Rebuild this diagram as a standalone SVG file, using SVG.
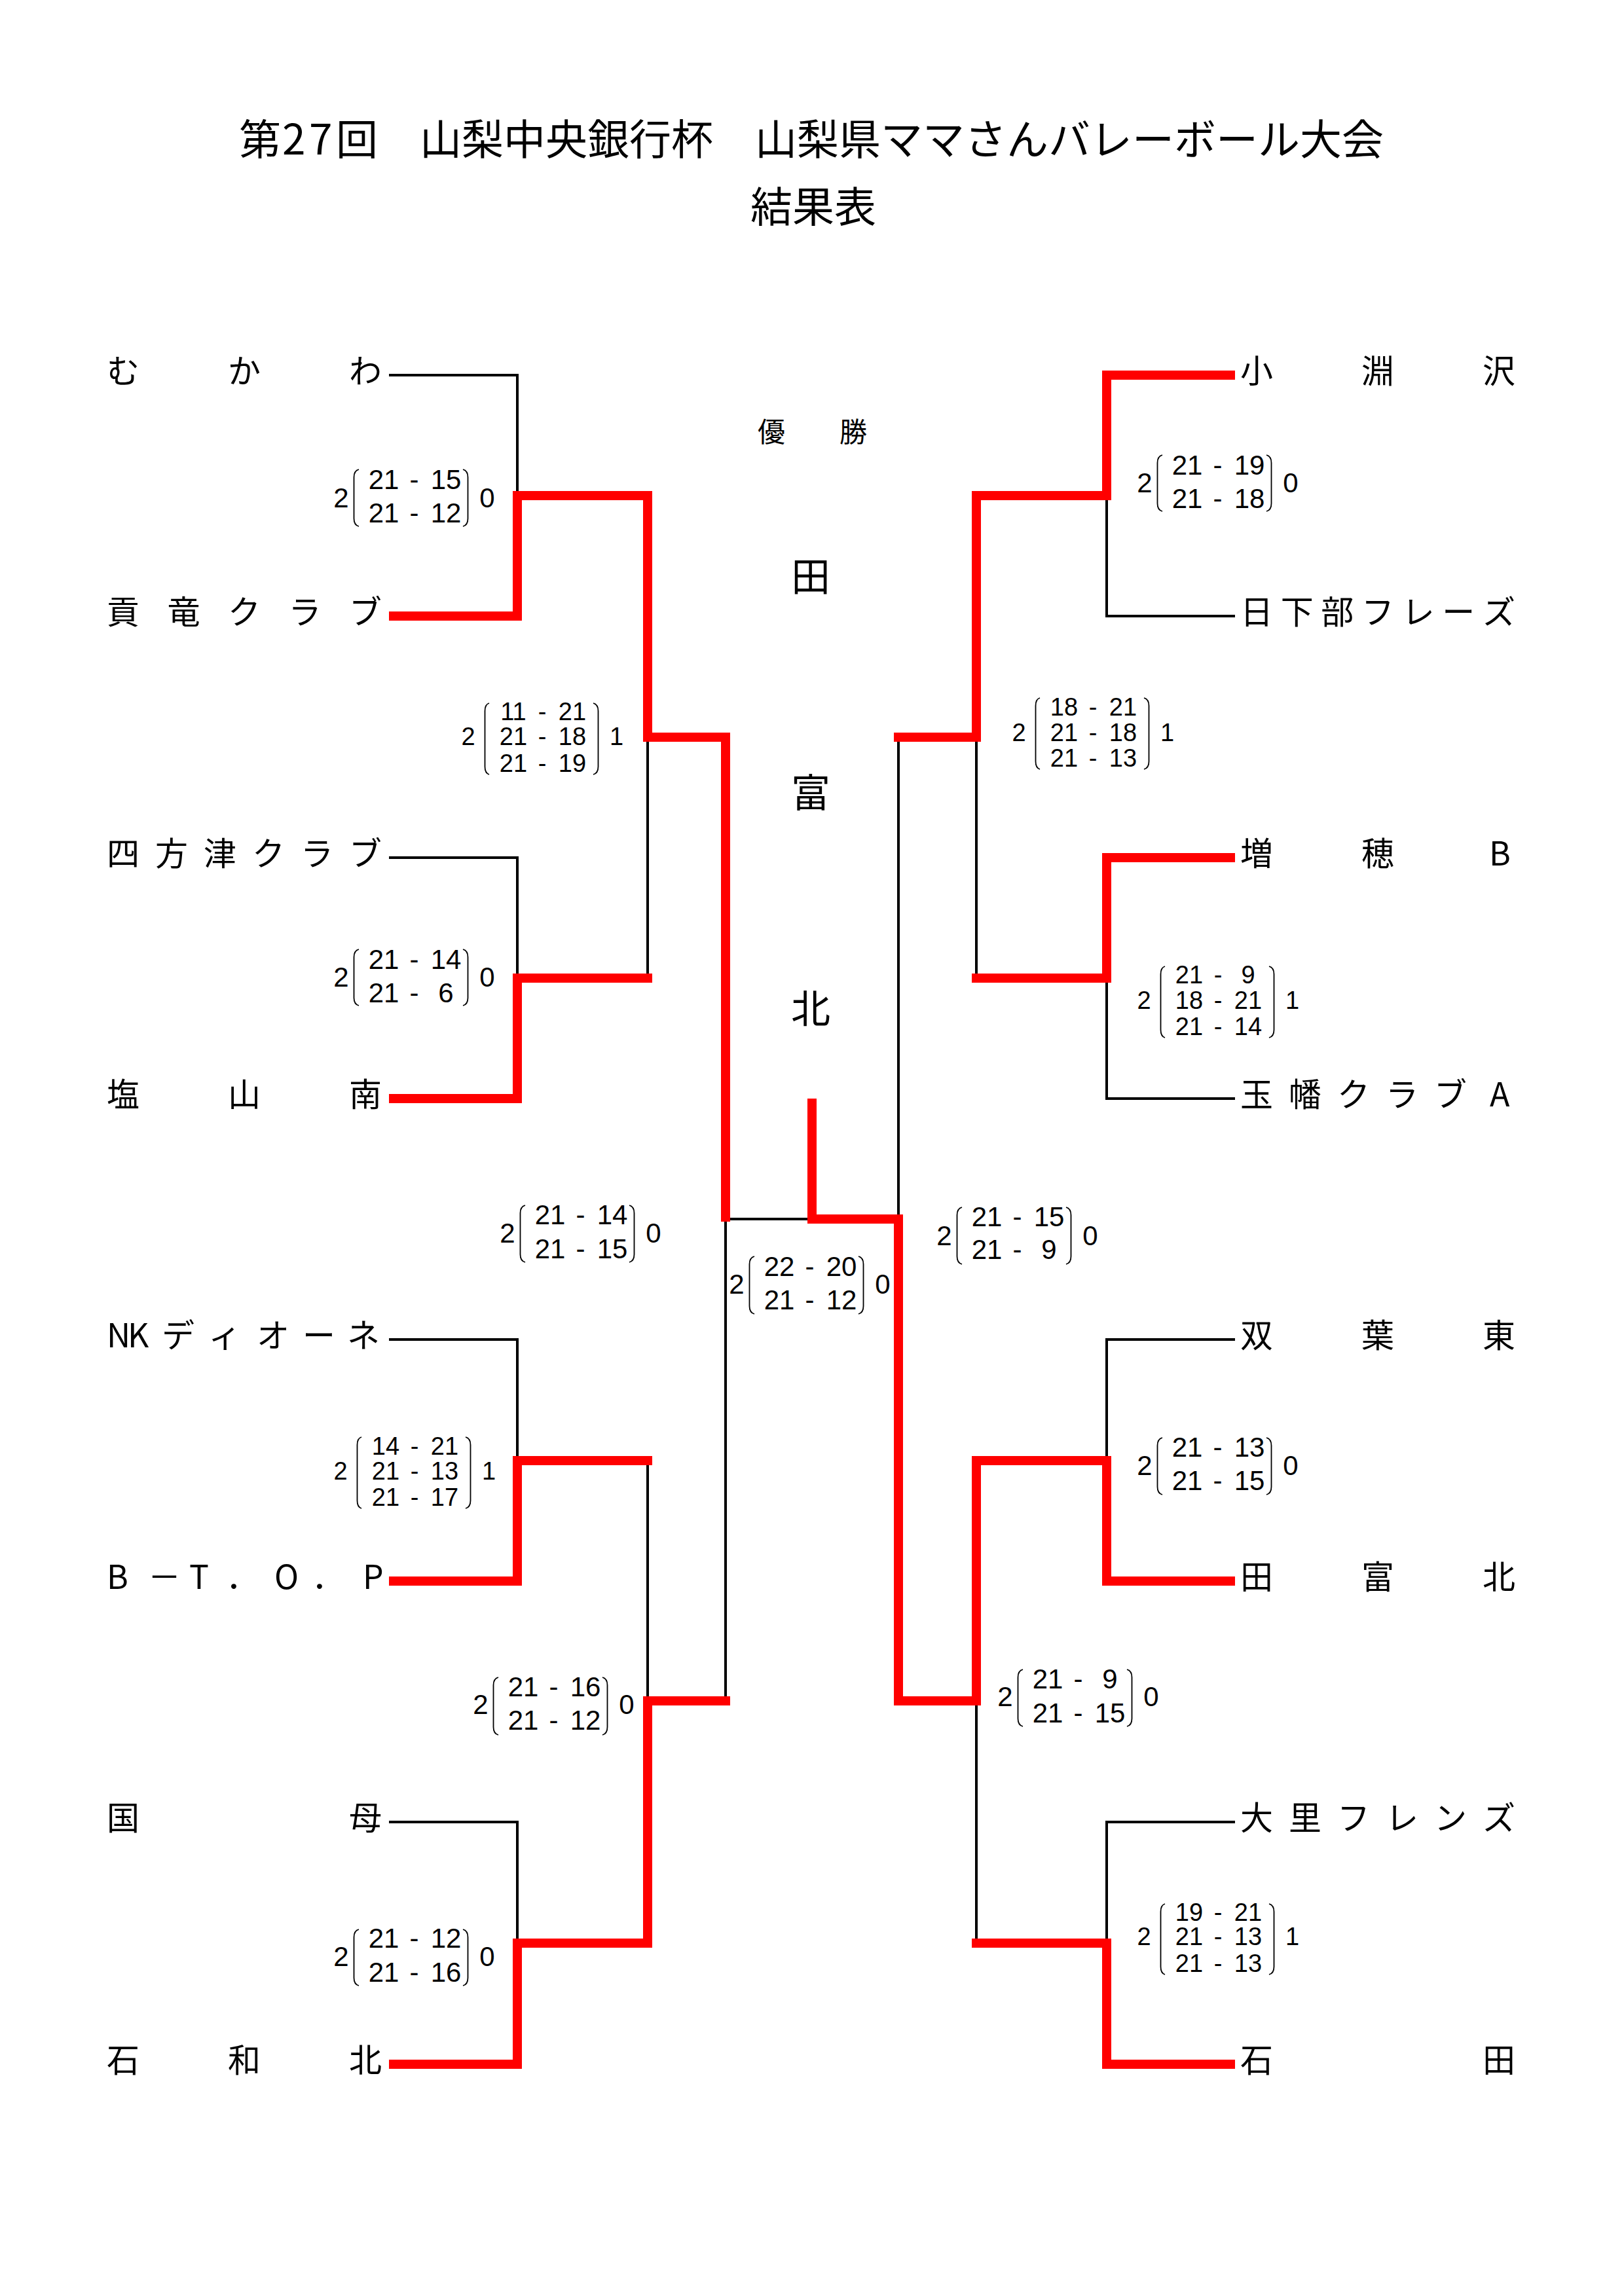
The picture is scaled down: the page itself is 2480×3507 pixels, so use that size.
<svg xmlns="http://www.w3.org/2000/svg" width="2480" height="3507" viewBox="0 0 2480 3507">
<style>
.title{font-family:"Noto Sans CJK JP","Noto Sans CJK SC",sans-serif;font-size:64px;fill:#000}
.tm{font-family:"Noto Sans CJK JP","Noto Sans CJK SC",sans-serif;font-size:50px;fill:#000}
.ch{font-family:"Noto Sans CJK JP","Noto Sans CJK SC",sans-serif;fill:#000}
.s2{font-family:"Liberation Sans",Arial,sans-serif;font-size:42px;text-anchor:middle;fill:#000}
.s3{font-family:"Liberation Sans",Arial,sans-serif;font-size:38px;text-anchor:middle;fill:#000}
.br{fill:none;stroke:#000;stroke-width:1.8}
.blk{fill:none;stroke:#000;stroke-width:4;stroke-linejoin:miter}
.red{fill:none;stroke:#ff0000;stroke-width:14;stroke-linejoin:miter;stroke-linecap:butt}
</style>
<rect width="2480" height="3507" fill="#fff"/>

<g id="title">
<text class="title" y="236"><tspan x="365">第</tspan><tspan x="431">2</tspan><tspan x="472">7</tspan><tspan x="513">回　山梨中央銀行杯　山梨県ママさんバレーボール大会</tspan></text>
<text class="title" x="1242" y="339" text-anchor="middle">結果表</text>
</g>

<g id="connectors">
<g id="lines-black">
<path class="blk" d="M594 573H790V757"/>
<path class="blk" d="M594 1310H790V1494"/>
<path class="blk" d="M989 1494V1126"/>
<path class="blk" d="M594 2046H790V2231"/>
<path class="blk" d="M989 2231V2598"/>
<path class="blk" d="M594 2783H790V2968"/>
<path class="blk" d="M1108 1862V2598"/>
<path class="blk" d="M1108 1862H1240"/>
<path class="blk" d="M1886 941H1690V757"/>
<path class="blk" d="M1886 1678H1690V1494"/>
<path class="blk" d="M1491 1494V1126"/>
<path class="blk" d="M1372 1126V1862"/>
<path class="blk" d="M1886 2046H1690V2231"/>
<path class="blk" d="M1886 2783H1690V2968"/>
<path class="blk" d="M1491 2968V2598"/>
</g>
<g id="lines-red">
<path class="red" d="M594 941H790V757H989V1126H1108V1866"/>
<path class="red" d="M594 1678H790V1494H996"/>
<path class="red" d="M594 2415H790V2231H996"/>
<path class="red" d="M594 3153H790V2968H989V2598H1115"/>
<path class="red" d="M1886 573H1690V757H1491V1126H1365"/>
<path class="red" d="M1886 1310H1690V1494H1484"/>
<path class="red" d="M1886 2415H1690V2231H1491V2598H1372V1862H1240V1678"/>
<path class="red" d="M1886 3153H1690V2968H1484"/>
</g>
</g>

<g id="team-mukawa"><text class="tm" x="163 348 533" y="585">むかわ</text></g>
<g id="team-koryu"><text class="tm" x="163 255.5 348 440.5 533" y="953">貢竜クラブ</text></g>
<g id="team-shikozu"><text class="tm" x="163 237 311 385 459 533" y="1322">四方津クラブ</text></g>
<g id="team-enzanminami"><text class="tm" x="163 348 533" y="1690">塩山南</text></g>
<g id="team-nk"><text class="tm" x="163 195 247 318 392 462 530" y="2058">NKディオーネ</text></g>
<g id="team-btop"><text class="tm" x="163 226 289 345 419 476 554" y="2427">B－T．O．P</text></g>
<g id="team-kokubo"><text class="tm" x="163 533" y="2795">国母</text></g>
<g id="team-isawakita"><text class="tm" x="163 348 533" y="3165">石和北</text></g>

<g id="team-kobuchizawa"><text class="tm" x="1894 2079 2264" y="585">小淵沢</text></g>
<g id="team-kusakabe"><text class="tm" x="1894 1955.7 2017.3 2079 2140.7 2202.3 2264" y="953">日下部フレーズ</text></g>
<g id="team-masuho"><text class="tm" x="1894 2079 2274" y="1322">増穂B</text></g>
<g id="team-tamahata"><text class="tm" x="1894 1968 2042 2116 2190 2275" y="1690">玉幡クラブA</text></g>
<g id="team-futabahigashi"><text class="tm" x="1894 2079 2264" y="2058">双葉東</text></g>
<g id="team-tatomikita"><text class="tm" x="1894 2079 2264" y="2427">田富北</text></g>
<g id="team-osato"><text class="tm" x="1894 1968 2042 2116 2190 2264" y="2795">大里フレンズ</text></g>
<g id="team-ishida"><text class="tm" x="1894 2264" y="3165">石田</text></g>

<g id="champion">
<text class="ch" font-size="42" x="1157" y="675">優</text>
<text class="ch" font-size="42" x="1282" y="675">勝</text>
<text class="ch" font-size="60" x="1238" y="903" text-anchor="middle">田</text>
<text class="ch" font-size="60" x="1238" y="1233" text-anchor="middle">富</text>
<text class="ch" font-size="60" x="1238" y="1563" text-anchor="middle">北</text>
</g>

<g id="scores">
<g id="score-l1" transform="translate(511 0)">
<text class="s2" x="10" y="775">2</text>
<path class="br" d="M37 717Q29.5 719 29.5 729V792Q29.5 802 37 804"/>
<text class="s2" y="747"><tspan x="75">21</tspan><tspan x="121.5">-</tspan><tspan x="170">15</tspan></text>
<text class="s2" y="798"><tspan x="75">21</tspan><tspan x="121.5">-</tspan><tspan x="170">12</tspan></text>
<path class="br" d="M196 717Q203.5 719 203.5 729V792Q203.5 802 196 804"/>
<text class="s2" x="233" y="775">0</text>
</g>
<g id="score-l2" transform="translate(511 0)">
<text class="s2" x="10" y="1507">2</text>
<path class="br" d="M37 1450Q29.5 1452 29.5 1462V1524Q29.5 1534 37 1536"/>
<text class="s2" y="1480"><tspan x="75">21</tspan><tspan x="121.5">-</tspan><tspan x="170">14</tspan></text>
<text class="s2" y="1531"><tspan x="75">21</tspan><tspan x="121.5">-</tspan><tspan x="170">6</tspan></text>
<path class="br" d="M196 1450Q203.5 1452 203.5 1462V1524Q203.5 1534 196 1536"/>
<text class="s2" x="233" y="1507">0</text>
</g>
<g id="score-l-r2-top" transform="translate(706 0)">
<text class="s3" x="9" y="1138">2</text>
<path class="br" d="M41 1074Q34.5 1076 34.5 1086V1171Q34.5 1181 41 1183"/>
<text class="s3" y="1100"><tspan x="78">11</tspan><tspan x="122">-</tspan><tspan x="168">21</tspan></text>
<text class="s3" y="1138"><tspan x="78">21</tspan><tspan x="122">-</tspan><tspan x="168">18</tspan></text>
<text class="s3" y="1179"><tspan x="78">21</tspan><tspan x="122">-</tspan><tspan x="168">19</tspan></text>
<path class="br" d="M200 1074Q207.5 1076 207.5 1086V1171Q207.5 1181 200 1183"/>
<text class="s3" x="235.5" y="1138">1</text>
</g>
<g id="score-l-semi" transform="translate(765 0)">
<text class="s2" x="10" y="1898">2</text>
<path class="br" d="M37 1841Q29.5 1843 29.5 1853V1916Q29.5 1926 37 1928"/>
<text class="s2" y="1870"><tspan x="75">21</tspan><tspan x="121.5">-</tspan><tspan x="170">14</tspan></text>
<text class="s2" y="1922"><tspan x="75">21</tspan><tspan x="121.5">-</tspan><tspan x="170">15</tspan></text>
<path class="br" d="M196 1841Q203.5 1843 203.5 1853V1916Q203.5 1926 196 1928"/>
<text class="s2" x="233" y="1898">0</text>
</g>
<g id="score-final" transform="translate(1115 0)">
<text class="s2" x="10" y="1976">2</text>
<path class="br" d="M37 1919Q29.5 1921 29.5 1931V1995Q29.5 2005 37 2007"/>
<text class="s2" y="1949"><tspan x="75">22</tspan><tspan x="121.5">-</tspan><tspan x="170">20</tspan></text>
<text class="s2" y="2000"><tspan x="75">21</tspan><tspan x="121.5">-</tspan><tspan x="170">12</tspan></text>
<path class="br" d="M196 1919Q203.5 1921 203.5 1931V1995Q203.5 2005 196 2007"/>
<text class="s2" x="233" y="1976">0</text>
</g>
<g id="score-r-semi" transform="translate(1432 0)">
<text class="s2" x="10" y="1902">2</text>
<path class="br" d="M37 1844Q29.5 1846 29.5 1856V1919Q29.5 1929 37 1931"/>
<text class="s2" y="1873"><tspan x="75">21</tspan><tspan x="121.5">-</tspan><tspan x="170">15</tspan></text>
<text class="s2" y="1923"><tspan x="75">21</tspan><tspan x="121.5">-</tspan><tspan x="170">9</tspan></text>
<path class="br" d="M196 1844Q203.5 1846 203.5 1856V1919Q203.5 1929 196 1931"/>
<text class="s2" x="233" y="1902">0</text>
</g>
<g id="score-l3" transform="translate(511 0)">
<text class="s3" x="9" y="2260">2</text>
<path class="br" d="M41 2195Q34.5 2197 34.5 2207V2292Q34.5 2302 41 2304"/>
<text class="s3" y="2222"><tspan x="78">14</tspan><tspan x="122">-</tspan><tspan x="168">21</tspan></text>
<text class="s3" y="2260"><tspan x="78">21</tspan><tspan x="122">-</tspan><tspan x="168">13</tspan></text>
<text class="s3" y="2300"><tspan x="78">21</tspan><tspan x="122">-</tspan><tspan x="168">17</tspan></text>
<path class="br" d="M200 2195Q207.5 2197 207.5 2207V2292Q207.5 2302 200 2304"/>
<text class="s3" x="235.5" y="2260">1</text>
</g>
<g id="score-l-r2-bottom" transform="translate(724 0)">
<text class="s2" x="10" y="2618">2</text>
<path class="br" d="M37 2562Q29.5 2564 29.5 2574V2638Q29.5 2648 37 2650"/>
<text class="s2" y="2591"><tspan x="75">21</tspan><tspan x="121.5">-</tspan><tspan x="170">16</tspan></text>
<text class="s2" y="2642"><tspan x="75">21</tspan><tspan x="121.5">-</tspan><tspan x="170">12</tspan></text>
<path class="br" d="M196 2562Q203.5 2564 203.5 2574V2638Q203.5 2648 196 2650"/>
<text class="s2" x="233" y="2618">0</text>
</g>
<g id="score-l4" transform="translate(511 0)">
<text class="s2" x="10" y="3003">2</text>
<path class="br" d="M37 2947Q29.5 2949 29.5 2959V3021Q29.5 3031 37 3033"/>
<text class="s2" y="2975"><tspan x="75">21</tspan><tspan x="121.5">-</tspan><tspan x="170">12</tspan></text>
<text class="s2" y="3027"><tspan x="75">21</tspan><tspan x="121.5">-</tspan><tspan x="170">16</tspan></text>
<path class="br" d="M196 2947Q203.5 2949 203.5 2959V3021Q203.5 3031 196 3033"/>
<text class="s2" x="233" y="3003">0</text>
</g>
<g id="score-r1" transform="translate(1738 0)">
<text class="s2" x="10" y="752">2</text>
<path class="br" d="M37 695Q29.5 697 29.5 707V769Q29.5 779 37 781"/>
<text class="s2" y="725"><tspan x="75">21</tspan><tspan x="121.5">-</tspan><tspan x="170">19</tspan></text>
<text class="s2" y="776"><tspan x="75">21</tspan><tspan x="121.5">-</tspan><tspan x="170">18</tspan></text>
<path class="br" d="M196 695Q203.5 697 203.5 707V769Q203.5 779 196 781"/>
<text class="s2" x="233" y="752">0</text>
</g>
<g id="score-r-r2-top" transform="translate(1547 0)">
<text class="s3" x="9" y="1132">2</text>
<path class="br" d="M41 1066Q34.5 1068 34.5 1078V1163Q34.5 1173 41 1175"/>
<text class="s3" y="1093"><tspan x="78">18</tspan><tspan x="122">-</tspan><tspan x="168">21</tspan></text>
<text class="s3" y="1132"><tspan x="78">21</tspan><tspan x="122">-</tspan><tspan x="168">18</tspan></text>
<text class="s3" y="1171"><tspan x="78">21</tspan><tspan x="122">-</tspan><tspan x="168">13</tspan></text>
<path class="br" d="M200 1066Q207.5 1068 207.5 1078V1163Q207.5 1173 200 1175"/>
<text class="s3" x="235.5" y="1132">1</text>
</g>
<g id="score-r2" transform="translate(1738 0)">
<text class="s3" x="9" y="1541">2</text>
<path class="br" d="M41 1476Q34.5 1478 34.5 1488V1573Q34.5 1583 41 1585"/>
<text class="s3" y="1502"><tspan x="78">21</tspan><tspan x="122">-</tspan><tspan x="168">9</tspan></text>
<text class="s3" y="1541"><tspan x="78">18</tspan><tspan x="122">-</tspan><tspan x="168">21</tspan></text>
<text class="s3" y="1581"><tspan x="78">21</tspan><tspan x="122">-</tspan><tspan x="168">14</tspan></text>
<path class="br" d="M200 1476Q207.5 1478 207.5 1488V1573Q207.5 1583 200 1585"/>
<text class="s3" x="235.5" y="1541">1</text>
</g>
<g id="score-r3" transform="translate(1738 0)">
<text class="s2" x="10" y="2253">2</text>
<path class="br" d="M37 2196Q29.5 2198 29.5 2208V2271Q29.5 2281 37 2283"/>
<text class="s2" y="2225"><tspan x="75">21</tspan><tspan x="121.5">-</tspan><tspan x="170">13</tspan></text>
<text class="s2" y="2276"><tspan x="75">21</tspan><tspan x="121.5">-</tspan><tspan x="170">15</tspan></text>
<path class="br" d="M196 2196Q203.5 2198 203.5 2208V2271Q203.5 2281 196 2283"/>
<text class="s2" x="233" y="2253">0</text>
</g>
<g id="score-r-r2-bottom" transform="translate(1525 0)">
<text class="s2" x="10" y="2606">2</text>
<path class="br" d="M37 2550Q29.5 2552 29.5 2562V2625Q29.5 2635 37 2637"/>
<text class="s2" y="2579"><tspan x="75">21</tspan><tspan x="121.5">-</tspan><tspan x="170">9</tspan></text>
<text class="s2" y="2631"><tspan x="75">21</tspan><tspan x="121.5">-</tspan><tspan x="170">15</tspan></text>
<path class="br" d="M196 2550Q203.5 2552 203.5 2562V2625Q203.5 2635 196 2637"/>
<text class="s2" x="233" y="2606">0</text>
</g>
<g id="score-r4" transform="translate(1738 0)">
<text class="s3" x="9" y="2971">2</text>
<path class="br" d="M41 2908Q34.5 2910 34.5 2920V3004Q34.5 3014 41 3016"/>
<text class="s3" y="2934"><tspan x="78">19</tspan><tspan x="122">-</tspan><tspan x="168">21</tspan></text>
<text class="s3" y="2971"><tspan x="78">21</tspan><tspan x="122">-</tspan><tspan x="168">13</tspan></text>
<text class="s3" y="3012"><tspan x="78">21</tspan><tspan x="122">-</tspan><tspan x="168">13</tspan></text>
<path class="br" d="M200 2908Q207.5 2910 207.5 2920V3004Q207.5 3014 200 3016"/>
<text class="s3" x="235.5" y="2971">1</text>
</g>
</g>
</svg>
